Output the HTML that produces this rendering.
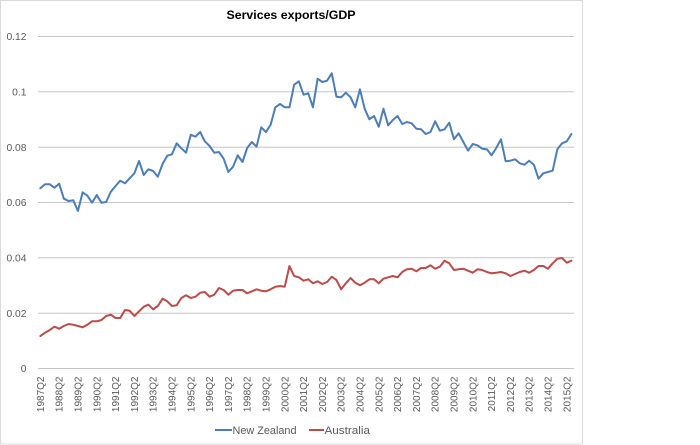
<!DOCTYPE html>
<html><head><meta charset="utf-8"><style>
html,body{margin:0;padding:0;background:#fff;}
svg{display:block;}
text{font-family:"Liberation Sans",Arial,sans-serif;}
</style></head><body>
<svg width="700" height="445" viewBox="0 0 700 445" xmlns="http://www.w3.org/2000/svg">
<rect x="0.5" y="0.5" width="582" height="443.5" fill="#fff" stroke="#d9d9d9" stroke-width="1"/>
<text x="291" y="19" text-anchor="middle" font-size="12.3" font-weight="bold" fill="#000" textLength="129" lengthAdjust="spacingAndGlyphs">Services exports/GDP</text>
<g stroke="#c6c6c6" stroke-width="1">
<line x1="38" y1="36.5" x2="574" y2="36.5"/>
<line x1="38" y1="91.8" x2="574" y2="91.8"/>
<line x1="38" y1="147.2" x2="574" y2="147.2"/>
<line x1="38" y1="202.5" x2="574" y2="202.5"/>
<line x1="38" y1="257.8" x2="574" y2="257.8"/>
<line x1="38" y1="313.2" x2="574" y2="313.2"/>
<line x1="38" y1="368.5" x2="574" y2="368.5"/>
</g>
<g font-size="10.3" fill="#595959" text-anchor="end">
<text x="26.5" y="40">0.12</text>
<text x="26.5" y="95.5">0.1</text>
<text x="26.5" y="150.8">0.08</text>
<text x="26.5" y="206">0.06</text>
<text x="26.5" y="261.5">0.04</text>
<text x="26.5" y="316.8">0.02</text>
<text x="26.5" y="372">0</text>
</g>
<g font-size="10" fill="#595959" text-anchor="end">
<text transform="translate(43.9,376.5) rotate(-90)">1987Q2</text>
<text transform="translate(62.7,376.5) rotate(-90)">1988Q2</text>
<text transform="translate(81.5,376.5) rotate(-90)">1989Q2</text>
<text transform="translate(100.3,376.5) rotate(-90)">1990Q2</text>
<text transform="translate(119.1,376.5) rotate(-90)">1991Q2</text>
<text transform="translate(137.9,376.5) rotate(-90)">1992Q2</text>
<text transform="translate(156.7,376.5) rotate(-90)">1993Q2</text>
<text transform="translate(175.5,376.5) rotate(-90)">1994Q2</text>
<text transform="translate(194.3,376.5) rotate(-90)">1995Q2</text>
<text transform="translate(213.1,376.5) rotate(-90)">1996Q2</text>
<text transform="translate(231.9,376.5) rotate(-90)">1997Q2</text>
<text transform="translate(250.7,376.5) rotate(-90)">1998Q2</text>
<text transform="translate(269.5,376.5) rotate(-90)">1999Q2</text>
<text transform="translate(288.3,376.5) rotate(-90)">2000Q2</text>
<text transform="translate(307.1,376.5) rotate(-90)">2001Q2</text>
<text transform="translate(325.9,376.5) rotate(-90)">2002Q2</text>
<text transform="translate(344.7,376.5) rotate(-90)">2003Q2</text>
<text transform="translate(363.5,376.5) rotate(-90)">2004Q2</text>
<text transform="translate(382.3,376.5) rotate(-90)">2005Q2</text>
<text transform="translate(401.1,376.5) rotate(-90)">2006Q2</text>
<text transform="translate(419.9,376.5) rotate(-90)">2007Q2</text>
<text transform="translate(438.7,376.5) rotate(-90)">2008Q2</text>
<text transform="translate(457.5,376.5) rotate(-90)">2009Q2</text>
<text transform="translate(476.3,376.5) rotate(-90)">2010Q2</text>
<text transform="translate(495.1,376.5) rotate(-90)">2011Q2</text>
<text transform="translate(513.9,376.5) rotate(-90)">2012Q2</text>
<text transform="translate(532.7,376.5) rotate(-90)">2013Q2</text>
<text transform="translate(551.5,376.5) rotate(-90)">2014Q2</text>
<text transform="translate(570.3,376.5) rotate(-90)">2015Q2</text>
</g>
<g transform="translate(40.35,0) scale(4.7,1)" fill="none" stroke-linejoin="round" stroke-linecap="round">
<polyline vector-effect="non-scaling-stroke" stroke="#4a7ebb" stroke-width="2" points="0,188.3 1,184.3 2,184.3 3,187.7 4,183.7 5,198.7 6,201 7,200.3 8,211 9,192.3 10,195.7 11,202.7 12,195 13,202.7 14,202 15,191.7 16,186 17,180.7 18,183.3 19,178.3 20,173.3 21,161 22,175 23,169.3 24,171 25,176.7 26,164 27,155.7 28,154.3 29,143.3 30,148.3 31,152.7 32,134.7 33,136.7 34,132 35,141.3 36,146 37,152.7 38,152 39,158.7 40,172 41,166.7 42,155.3 43,162 44,148 45,142 46,146.7 47,127.3 48,132 49,124.7 50,107.3 51,104 52,107.3 53,107.3 54,84.7 55,81.3 56,94.7 57,93.3 58,107.3 59,78.7 60,82 61,80.7 62,73.3 63,96.7 64,97.3 65,92.7 66,97.3 67,107.3 68,89.3 69,108.7 70,119.3 71,116 72,126.7 73,108.7 74,125.3 75,120 76,116 77,124 78,122 79,123.3 80,128.7 81,129.3 82,134 83,132 84,121.3 85,130.7 86,129.3 87,122.7 88,139.3 89,133.3 90,142 91,150.7 92,144 93,145.3 94,148.7 95,149.3 96,155.3 97,148 98,139.3 99,161.3 100,160.7 101,159.3 102,163.3 103,164.7 104,160.7 105,164.7 106,178.7 107,173.3 108,172 109,170.7 110,149.3 111,143.3 112,141.3 113,134"/>
<polyline vector-effect="non-scaling-stroke" stroke="#be4b48" stroke-width="2" points="0,336 1,332.7 2,330 3,326.7 4,328.7 5,326 6,324 7,324.7 8,326 9,327.3 10,324.7 11,321.3 12,321.3 13,320 14,316 15,314.7 16,318 17,318 18,310 19,310.7 20,316 21,311.3 22,306.7 23,304.7 24,309.3 25,306 26,298.7 27,301.3 28,306 29,305.3 30,298 31,295.3 32,298 33,296.7 34,292.7 35,292 36,296.7 37,294.7 38,288 39,290 40,294.7 41,290.7 42,290 43,290 44,293.3 45,291.3 46,289.3 47,290.7 48,291.3 49,289.3 50,286.7 51,286 52,286.7 53,266 54,276 55,277.3 56,280.7 57,279.3 58,283.3 59,281.3 60,284 61,282 62,276.7 63,280 64,289.3 65,283.3 66,278 67,282.7 68,285.3 69,282.7 70,279.3 71,279.3 72,283.3 73,278.7 74,277.3 75,276 76,277.3 77,272 78,269.3 79,268.7 80,271.3 81,268 82,268 83,265.3 84,268.7 85,266.7 86,260.7 87,263.3 88,270 89,269.3 90,268.7 91,270.7 92,272.7 93,269.3 94,270 95,272 96,273.3 97,272.7 98,272 99,273.3 100,276 101,274 102,272 103,270.7 104,272.7 105,270 106,266 107,266 108,268.7 109,263.3 110,258.7 111,258 112,262.7 113,260.7"/>
</g>
<line x1="215" y1="430" x2="232" y2="430" stroke="#4a7ebb" stroke-width="2"/>
<text x="232.5" y="434" font-size="10.9" fill="#595959" textLength="64" lengthAdjust="spacingAndGlyphs">New Zealand</text>
<line x1="309" y1="430" x2="324" y2="430" stroke="#be4b48" stroke-width="2"/>
<text x="324.5" y="434" font-size="10.9" fill="#595959" textLength="45.5" lengthAdjust="spacingAndGlyphs">Australia</text>
</svg>
</body></html>
